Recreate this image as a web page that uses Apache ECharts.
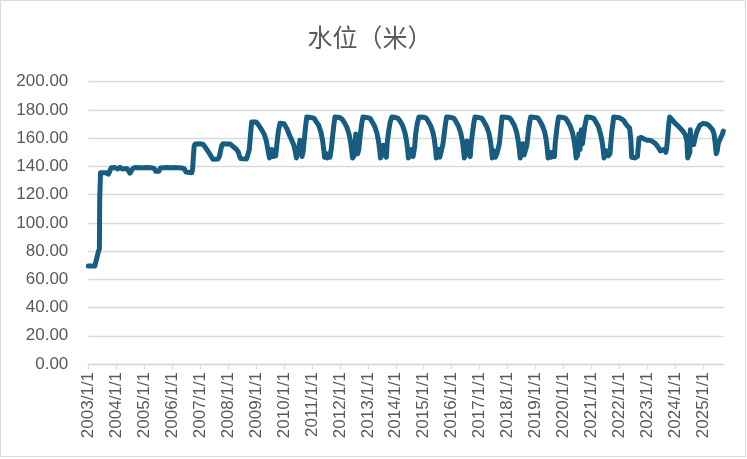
<!DOCTYPE html>
<html><head><meta charset="utf-8">
<script src="https://cdn.jsdelivr.net/npm/echarts@6/dist/echarts.min.js"></script>
<style>html,body{margin:0;padding:0;background:#fff}#c{width:747px;height:459px}</style>
</head><body><div id="c"></div>
<script>
const chartTitle = '水位（米）';
const tickYears = [2003,2004,2005,2006,2007,2008,2009,2010,2011,2012,2013,2014,2015,2016,2017,2018,2019,2020,2021,2022,2023,2024,2025];

const dates = [
'2003-01-01','2003-03-28','2003-05-12','2003-05-26','2003-05-30','2003-06-10','2003-08-20','2003-09-20','2003-10-10','2003-10-28','2003-12-10','2003-12-31',
'2004-01-20','2004-02-20','2004-03-20','2004-04-15','2004-05-20','2004-06-10','2004-06-28','2004-07-20','2004-08-10','2004-09-10','2004-11-01','2004-12-31',
'2005-01-31','2005-03-31','2005-05-10','2005-06-01','2005-06-15','2005-07-10','2005-07-31','2005-10-15','2005-12-31',
'2006-01-31','2006-03-15','2006-05-10','2006-06-10','2006-07-01','2006-07-15','2006-09-15','2006-09-25','2006-10-05','2006-10-15','2006-10-27','2006-12-31',
'2007-01-20','2007-02-10','2007-03-10','2007-04-10','2007-05-10','2007-06-01','2007-06-20','2007-08-20','2007-09-10','2007-09-25','2007-10-10','2007-10-27','2007-12-31',
'2008-01-31','2008-02-25','2008-03-20','2008-04-20','2008-05-15','2008-06-01','2008-06-15','2008-08-31','2008-09-25','2008-10-05','2008-10-20','2008-11-05','2008-11-10','2008-12-31',
'2009-01-15','2009-02-01','2009-02-25','2009-03-20','2009-04-20','2009-05-15','2009-06-05','2009-06-25','2009-07-15','2009-07-25','2009-08-05','2009-08-25','2009-09-15','2009-10-01','2009-10-20','2009-11-10','2009-11-24','2009-12-31',
'2010-01-20','2010-02-10','2010-03-10','2010-04-10','2010-05-10','2010-05-31','2010-06-12','2010-07-05','2010-07-20','2010-07-28','2010-08-10','2010-08-25','2010-09-10','2010-09-25','2010-10-10','2010-10-26','2010-12-31',
'2011-01-31','2011-02-28','2011-03-31','2011-04-30','2011-05-20','2011-06-05','2011-06-15','2011-06-30','2011-07-10','2011-07-20','2011-08-05','2011-08-25','2011-09-10','2011-09-30','2011-10-15','2011-10-30','2011-12-31',
'2012-01-31','2012-02-29','2012-03-31','2012-04-30','2012-05-20','2012-06-05','2012-06-15','2012-07-05','2012-07-15','2012-07-27','2012-08-05','2012-08-20','2012-09-05','2012-09-25','2012-10-15','2012-10-30','2012-12-31',
'2013-01-31','2013-02-28','2013-03-31','2013-04-30','2013-05-20','2013-06-05','2013-06-15','2013-07-05','2013-07-22','2013-08-05','2013-08-31','2013-09-10','2013-09-30','2013-10-20','2013-11-11','2013-12-31',
'2014-01-31','2014-02-28','2014-03-31','2014-04-30','2014-05-20','2014-06-05','2014-06-15','2014-07-10','2014-07-25','2014-08-15','2014-09-05','2014-09-20','2014-10-10','2014-10-31','2014-12-31',
'2015-01-31','2015-02-28','2015-03-31','2015-04-30','2015-05-20','2015-06-05','2015-06-15','2015-07-05','2015-07-15','2015-07-30','2015-08-20','2015-09-10','2015-09-30','2015-10-15','2015-10-28','2015-12-31',
'2016-01-31','2016-02-29','2016-03-31','2016-04-30','2016-05-20','2016-06-05','2016-06-15','2016-07-05','2016-07-20','2016-08-05','2016-08-31','2016-09-10','2016-09-30','2016-10-15','2016-11-01','2016-12-31',
'2017-01-31','2017-02-28','2017-03-31','2017-04-30','2017-05-20','2017-06-05','2017-06-15','2017-07-10','2017-07-25','2017-08-15','2017-09-05','2017-09-15','2017-10-01','2017-10-21','2017-12-31',
'2018-01-31','2018-02-28','2018-03-31','2018-04-30','2018-05-20','2018-06-05','2018-06-15','2018-07-05','2018-07-20','2018-08-05','2018-08-31','2018-09-10','2018-09-30','2018-10-15','2018-10-31','2018-12-31',
'2019-01-31','2019-02-28','2019-03-31','2019-04-30','2019-05-20','2019-06-05','2019-06-15','2019-07-10','2019-07-25','2019-08-15','2019-09-05','2019-09-15','2019-10-05','2019-10-20','2019-10-31','2019-12-31',
'2020-01-31','2020-02-29','2020-03-31','2020-04-30','2020-05-20','2020-06-05','2020-06-15','2020-07-05','2020-07-20','2020-08-05','2020-08-22','2020-09-05','2020-09-15','2020-10-05','2020-10-31','2020-12-31',
'2021-01-31','2021-02-28','2021-03-31','2021-04-30','2021-05-20','2021-06-05','2021-06-15','2021-07-05','2021-07-20','2021-08-10','2021-08-31','2021-09-10','2021-09-25','2021-10-10','2021-10-19','2021-12-31',
'2022-01-31','2022-02-28','2022-03-20','2022-04-20','2022-05-15','2022-06-01','2022-06-10','2022-06-30','2022-07-20','2022-08-10','2022-08-25','2022-09-05','2022-09-15','2022-10-15','2022-11-15','2022-12-31',
'2023-01-31','2023-02-28','2023-03-25','2023-04-20','2023-05-10','2023-05-31','2023-06-20','2023-07-15','2023-08-10','2023-08-31','2023-09-10','2023-09-25','2023-10-08','2023-10-20','2023-11-15','2023-12-31',
'2024-01-31','2024-03-07','2024-04-10','2024-05-10','2024-06-01','2024-06-12','2024-06-25','2024-07-10','2024-07-16','2024-07-25','2024-08-10','2024-08-29','2024-09-15','2024-10-12','2024-11-15','2024-12-31',
'2025-01-15','2025-02-15','2025-03-15','2025-04-04','2025-05-01','2025-05-20','2025-06-05','2025-06-20','2025-07-01','2025-07-15','2025-08-05','2025-08-25','2025-09-05','2025-09-20'
];

const levels = [
69.5,69.5,79.5,81.5,117,135.5,135.5,134.5,135.8,139,139.2,138.5,
138.2,139.3,138.2,139,138.5,136.8,135.2,136.5,138.8,139.2,139,139,
139.2,139,138.6,136.5,135.3,136.5,138.8,139.2,139,
139.2,139,138.8,138.2,136,135.5,135.5,138,147,154,155.8,156,
156,155.5,153.5,151,148.5,146.5,145,145.2,147,151,154.5,156,155.8,
155.8,155,153.5,152,150,147,145.5,145.3,145.8,152,162,171.5,172.5,171.5,
170.5,169.5,168.5,165.5,162.5,158,152,146,146.5,152,147,146.5,147.5,156,165,170.5,171.3,170.3,
169.5,166.5,162.5,159,155,150,146,146.5,155,158.5,151,147,151,160,168,175,174.5,
174,171.5,169,164,158.5,152,146.5,145.5,149,146,148.5,146.5,152,162,169.5,175,174.6,
173.5,171,168,163,157.5,151,146,147.5,152,163,156,149,152,163,171,175,174.5,
174,171.5,168.5,163.5,158,151.5,146,146.5,155,148,146.5,156,165,171.5,175,174.6,
174,172,169,164,158.5,152,146,147.5,152,147,154,164,170.5,175,174.8,
174.3,172,169,164.5,159,152,146,146.5,152,146.5,147.5,156,165,171,175,174.6,
174,171.5,168.5,163.5,158,151.5,146,150,158,149,147,155,164,170,175,174.5,
174,171.5,168.5,164,158.5,152,146,151,146.5,149,148,156,164,175,174.6,
174.2,172,169,164,158,151.5,146,147,156,148,147.5,155,165,171,175,174.7,
174.3,172,169,164.5,159,152,146,150,146.5,150,147,156,166,172,175,174.6,
174,171.5,168.5,163.5,158,151.5,146,148,163,152,166,156,160,168,175,174.6,
174,171.5,168.5,163,157.5,151,146,147,151,147.5,149,156,165,171,175,174.5,
173.5,172.5,170.5,168.5,167,158,146.5,145.5,146,145.5,147,154,160,160.5,159.5,158.5,
158.5,158,157.5,156,155,153,151,150.5,152,150,152.5,161,170,175,173.5,170.5,
169,167,165,162.5,158,146,146,150,166,156,155,155.5,160,165,169,170.5,
170.7,170,169,168.5,166,163.5,157,149,150.5,156,159,158,162.5,165
];

if (dates.length !== levels.length) throw new Error('length mismatch ' + dates.length + ' ' + levels.length);

const DAY = 86400000;
const ORIGIN = Date.UTC(2003, 0, 1);
function toYears(s) {
  const p = s.split('-').map(Number);
  return (Date.UTC(p[0], p[1] - 1, p[2]) - ORIGIN) / (365.25 * DAY);
}
const tickPos = tickYears.map(y => toYears(y + '-01-01'));
const seriesData = dates.map((d, i) => [toYears(d), levels[i]]);

const chart = echarts.init(document.getElementById('c'), null, {renderer: 'canvas'});
chart.setOption({
  animation: false,
  backgroundColor: '#ffffff',
  title: {
    text: chartTitle,
    left: 365,
    textAlign: 'center',
    top: 20,
    textStyle: {fontSize: 25, fontWeight: 'normal', color: '#595959', fontFamily: 'Noto Sans CJK SC'}
  },
  grid: {left: 88.3, right: 23.7, top: 81.7, bottom: 95},
  xAxis: {
    type: 'value',
    min: 0,
    max: 'dataMax',
    splitLine: {show: false},
    axisLine: {show: true, lineStyle: {color: '#d9d9d9', width: 1.3}},
    axisTick: {show: true, customValues: tickPos, length: 5, lineStyle: {color: '#d9d9d9', width: 1.3}},
    axisLabel: {
      customValues: tickPos,
      rotate: 90,
      margin: 8,
      fontSize: 17,
      color: '#595959',
      fontFamily: 'Liberation Sans',
      formatter: v => (2003 + Math.round(v)) + '/1/1'
    }
  },
  yAxis: {
    type: 'value',
    min: 0,
    max: 200,
    interval: 20,
    axisLine: {show: false},
    axisTick: {show: false},
    splitLine: {lineStyle: {color: '#d9d9d9', width: 1.3}},
    axisLabel: {
      margin: 20,
      fontSize: 17,
      color: '#595959',
      fontFamily: 'Liberation Sans',
      formatter: v => v.toFixed(2)
    }
  },
  graphic: [{
    type: 'rect',
    shape: {x: 0.5, y: 0.5, width: 745, height: 456},
    style: {fill: 'none', stroke: '#d9d9d9', lineWidth: 1},
    silent: true
  }],
  series: [{
    type: 'line',
    data: seriesData,
    showSymbol: false,
    lineStyle: {color: '#175D81', width: 5, join: 'round', cap: 'round'},
    itemStyle: {color: '#175D81'}
  }]
});
</script>
</body></html>
